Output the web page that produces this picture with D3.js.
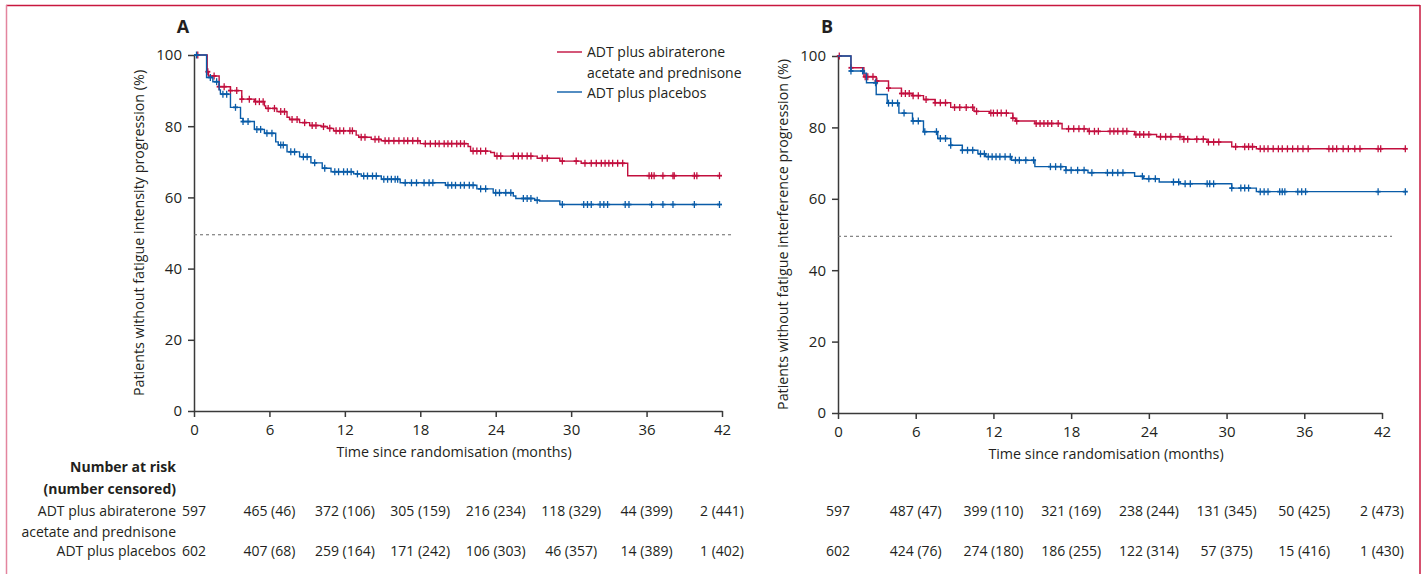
<!DOCTYPE html>
<html>
<head>
<meta charset="utf-8">
<script src="https://cdn.jsdelivr.net/npm/d3@7"></script>
<style>
  body { margin: 0; background: #fff; }
  svg text { font-family: "Open Sans", "DejaVu Sans", sans-serif; fill: #231f20; }
</style>
</head>
<body>
<div id="chart"></div>
<script>
var months = [0, 6, 12, 18, 24, 30, 36, 42];
var yTicks = [0, 20, 40, 60, 80, 100];
var seriesNames = ["ADT plus abiraterone", "acetate and prednisone", "ADT plus placebos"];
var medianLine = 49.5;

// panel A: fatigue intensity
var aAbiSteps = [[0,100],[1.05,95.3],[1.15,94.1],[2.0,91.1],[2.9,90.0],[3.8,87.6],[4.8,86.9],[5.6,85.7],[5.7,85.0],[6.6,84.1],[7.4,82.5],[7.6,81.9],[8.4,81.0],[9.2,80.2],[10.1,79.9],[10.6,79.4],[11.1,78.7],[12.9,77.5],[13.1,76.9],[14.1,76.3],[14.9,75.9],[18.0,75.1],[21.8,74.3],[22.0,73.0],[23.6,72.6],[23.9,71.6],[27.3,71.0],[29.1,70.2],[30.8,69.6],[34.5,66.1],[41.8,66.1]];
var aPlaSteps = [[0,100],[1.0,93.7],[1.5,92.5],[2.0,90.2],[2.1,89.0],[2.9,85.3],[3.7,82.2],[3.9,81.3],[4.8,79.1],[5.6,78.0],[6.5,75.6],[6.7,74.7],[7.4,72.8],[8.4,71.4],[9.3,69.7],[10.2,68.2],[10.9,67.2],[12.7,66.6],[13.3,66.0],[14.9,65.1],[16.4,64.1],[20.0,63.4],[22.5,62.4],[23.8,61.3],[25.4,60.4],[25.6,59.7],[27.1,59.2],[27.5,59.0],[29.1,58.0],[41.8,58.0]];
var aAbiCensor = [0.3,1.1,1.6,2.0,2.4,2.9,3.4,3.8,4.4,4.9,5.2,5.5,5.9,6.4,6.9,7.2,7.8,8.2,8.8,9.4,9.7,10.3,10.8,11.3,11.6,11.9,12.4,12.6,13.3,13.6,14.4,14.7,15.2,15.5,15.9,16.3,16.7,17.0,17.4,17.8,18.4,18.8,19.2,19.5,19.9,20.2,20.5,20.9,21.2,21.5,22.2,22.5,22.8,23.2,24.1,24.4,25.4,25.8,26.1,26.5,26.8,27.7,28.1,29.3,30.4,31.1,31.6,32.0,32.4,32.7,33.0,33.3,33.7,34.1,36.2,36.4,36.6,37.3,38.1,38.2,39.8,40.0,41.8];
var aPlaCensor = [0.2,1.3,1.8,2.3,2.6,3.3,3.9,4.3,5.0,5.3,5.8,6.2,6.9,7.1,7.7,8.0,8.7,9.0,9.6,10.4,11.2,11.5,11.9,12.2,12.5,13.0,13.5,13.8,14.2,14.5,15.1,15.4,15.7,16.0,16.2,16.8,17.3,17.7,18.3,18.7,19.0,20.2,20.5,20.8,21.2,21.5,21.9,22.2,22.8,23.2,24.0,24.3,24.8,25.2,26.2,26.5,26.8,27.3,29.3,31.0,31.3,31.6,32.3,32.6,32.9,34.3,34.6,36.4,37.3,38.1,39.8,41.8];
var aAbiRisk = ["597","465 (46)","372 (106)","305 (159)","216 (234)","118 (329)","44 (399)","2 (441)"];
var aPlaRisk = ["602","407 (68)","259 (164)","171 (242)","106 (303)","46 (357)","14 (389)","1 (402)"];

// panel B: fatigue interference
var bAbiSteps = [[0,100],[1.0,96.7],[2.0,94.2],[2.95,93.0],[3.9,91.0],[4.9,89.5],[5.75,88.9],[6.6,87.8],[7.5,86.9],[8.7,85.6],[10.5,84.5],[11.7,84.0],[13.5,82.6],[13.7,81.8],[15.2,81.1],[17.3,79.6],[19.3,78.9],[22.9,78.0],[24.6,77.4],[26.7,76.7],[28.5,75.9],[30.4,74.6],[32.3,74.0],[43.8,74.0]];
var bPlaSteps = [[0,100],[1.0,95.8],[2.0,95.2],[2.2,92.5],[2.95,89.2],[3.8,86.8],[4.7,84.0],[5.75,81.8],[6.6,78.8],[7.7,76.9],[8.7,75.0],[9.6,73.6],[10.8,72.6],[11.4,71.8],[13.4,70.8],[15.2,69.0],[17.6,68.0],[19.3,67.3],[22.9,66.3],[23.6,65.6],[24.8,64.7],[26.4,64.2],[30.4,63.0],[32.3,62.0],[43.8,62.0]];
var bAbiCensor = [0.1,1.0,2.1,2.3,2.7,3.0,3.9,4.9,5.2,5.5,5.8,6.2,6.8,7.5,7.9,8.3,9.0,9.4,9.9,10.4,10.7,11.8,12.0,12.3,12.6,13.0,13.5,13.8,15.3,15.6,15.9,16.2,16.5,17.0,17.8,18.2,18.6,19.0,19.4,19.8,20.1,21.0,21.3,21.6,22.0,22.3,23.0,23.3,23.6,24.0,24.9,25.3,25.7,26.4,26.7,27.0,27.7,28.2,28.6,29.0,29.4,30.7,31.4,31.7,32.0,32.6,32.9,33.2,33.6,34.0,34.3,34.7,35.1,35.5,35.9,36.3,37.9,38.2,38.5,39.0,39.4,39.9,40.3,41.7,41.9,43.8];
var bPlaCensor = [1.0,1.9,2.9,3.9,4.2,4.6,5.1,5.8,6.2,6.7,7.6,7.9,8.3,8.7,9.6,10.0,10.4,11.0,11.3,11.6,11.9,12.2,12.5,12.9,13.3,13.7,14.0,14.5,15.1,16.4,16.8,17.2,17.6,18.0,18.5,19.0,19.6,20.8,21.2,21.6,22.0,23.5,24.0,24.5,25.9,26.3,26.8,27.2,28.5,28.7,29.0,30.4,31.1,31.4,31.7,32.6,32.9,33.2,34.1,34.3,34.5,35.5,35.8,36.1,41.7,43.8];
var bAbiRisk = ["597","487 (47)","399 (110)","321 (169)","238 (244)","131 (345)","50 (425)","2 (473)"];
var bPlaRisk = ["602","424 (76)","274 (180)","186 (255)","122 (314)","57 (375)","15 (416)","1 (430)"];

var RED = "#c20f3e", BLUE = "#0a5ca8", AXIS = "#3a3a3a";

var svg = d3.select("#chart").append("svg")
  .attr("width", 1424).attr("height", 574);
svg.append("rect").attr("width", 1424).attr("height", 574).attr("fill", "#fff");

// frame
svg.append("line").attr("x1", 6).attr("x2", 1420).attr("y1", 5.5).attr("y2", 5.5).attr("stroke", "#c8173f").attr("stroke-width", 1.5);
svg.append("line").attr("x1", 1420).attr("x2", 1420).attr("y1", 5).attr("y2", 574).attr("stroke", "#c8173f").attr("stroke-width", 1.5);
svg.append("line").attr("x1", 6.5).attr("x2", 6.5).attr("y1", 5).attr("y2", 574).attr("stroke", "#e3859e").attr("stroke-width", 1.5);

function valueAt(steps, t) {
  var v = steps[0][1];
  steps.forEach(function(s) { if (s[0] <= t) v = s[1]; });
  return v;
}

function drawPanel(p) {
  var x = d3.scaleLinear().domain([0, 42]).range([p.left, p.right]);
  var y = d3.scaleLinear().domain([0, 100]).range([p.bottom, p.top]);
  var g = svg.append("g");

  g.append("text").attr("x", p.left - 11).attr("y", 33)
    .attr("text-anchor", "middle").attr("font-size", 18).attr("font-weight", "bold").text(p.label);

  var yAxis = g.append("g").attr("transform", "translate(" + p.left + ",0)")
    .call(d3.axisLeft(y).tickValues(yTicks).tickSize(6).tickSizeOuter(0).tickPadding(6));
  var xAxis = g.append("g").attr("transform", "translate(0," + p.bottom + ")")
    .call(d3.axisBottom(x).tickValues(months).tickSize(6).tickSizeOuter(0).tickPadding(7));
  [xAxis, yAxis].forEach(function(a) {
    a.selectAll("path, line").attr("stroke", AXIS).attr("stroke-width", 1.5);
    a.selectAll("text").attr("font-size", 15).attr("font-family", "Open Sans").attr("fill", "#231f20");
  });

  g.append("text").attr("x", (p.left + p.right) / 2 - 4).attr("y", p.bottom + 46)
    .attr("text-anchor", "middle").attr("font-size", 14.3).text("Time since randomisation (months)");
  g.append("text").attr("transform", "translate(" + (p.left - 50) + "," + ((p.top + p.bottom) / 2) + ") rotate(-90)")
    .attr("text-anchor", "middle").attr("font-size", 14.3).text(p.yTitle);

  g.append("line").attr("x1", p.left).attr("x2", p.right + 10)
    .attr("y1", y(medianLine)).attr("y2", y(medianLine))
    .attr("stroke", "#666").attr("stroke-width", 1).attr("stroke-dasharray", "3,3");

  var stepLine = d3.line().x(function(d) { return x(d[0]); }).y(function(d) { return y(d[1]); }).curve(d3.curveStepAfter);

  p.series.forEach(function(s) {
    g.append("path").datum(s.steps).attr("d", stepLine)
      .attr("fill", "none").attr("stroke", s.color).attr("stroke-width", 1.4);
    var marks = g.append("g").selectAll("g").data(s.censor).enter().append("g")
      .attr("transform", function(t) { return "translate(" + x(t) + "," + y(valueAt(s.steps, t)) + ")"; });
    marks.append("line").attr("y1", -3.5).attr("y2", 3.5).attr("stroke", s.color).attr("stroke-width", 1.3);
    marks.append("line").attr("x1", -2.5).attr("x2", 2.5).attr("stroke", s.color).attr("stroke-width", 1.8);
  });

  p.risk.forEach(function(row) {
    g.selectAll(null).data(row.values).enter().append("text")
      .attr("x", function(d, i) { return x(months[i]); })
      .attr("y", row.y).attr("text-anchor", "middle").attr("font-size", 14)
      .text(function(d) { return d; });
  });
}

drawPanel({
  label: "A", left: 194, right: 722, top: 55, bottom: 411,
  yTitle: "Patients without fatigue intensity progression (%)",
  series: [
    { color: RED, steps: aAbiSteps, censor: aAbiCensor },
    { color: BLUE, steps: aPlaSteps, censor: aPlaCensor }
  ],
  risk: [{ y: 516, values: aAbiRisk }, { y: 556, values: aPlaRisk }]
});

drawPanel({
  label: "B", left: 838, right: 1382, top: 56, bottom: 413,
  yTitle: "Patients without fatigue interference progression (%)",
  series: [
    { color: RED, steps: bAbiSteps, censor: bAbiCensor },
    { color: BLUE, steps: bPlaSteps, censor: bPlaCensor }
  ],
  risk: [{ y: 516, values: bAbiRisk }, { y: 556, values: bPlaRisk }]
});

// legend
var legend = svg.append("g").attr("transform", "translate(557,0)");
legend.append("line").attr("x1", 0).attr("x2", 25).attr("y1", 52).attr("y2", 52).attr("stroke", RED).attr("stroke-width", 1.4);
legend.append("line").attr("x1", 0).attr("x2", 25).attr("y1", 92).attr("y2", 92).attr("stroke", BLUE).attr("stroke-width", 1.4);
legend.append("text").attr("x", 30).attr("y", 57).attr("font-size", 14).text(seriesNames[0]);
legend.append("text").attr("x", 30).attr("y", 78).attr("font-size", 14).text(seriesNames[1]);
legend.append("text").attr("x", 30).attr("y", 98).attr("font-size", 14).text(seriesNames[2]);

// risk table row labels
var rowLabels = [
  { text: "Number at risk", y: 472, bold: true },
  { text: "(number censored)", y: 494, bold: true },
  { text: seriesNames[0], y: 516 },
  { text: seriesNames[1], y: 537 },
  { text: seriesNames[2], y: 556 }
];
svg.selectAll(".rowlab").data(rowLabels).enter().append("text")
  .attr("x", 176).attr("y", function(d) { return d.y; })
  .attr("text-anchor", "end").attr("font-size", 14)
  .attr("font-weight", function(d) { return d.bold ? "bold" : "normal"; })
  .text(function(d) { return d.text; });
</script>
</body>
</html>
